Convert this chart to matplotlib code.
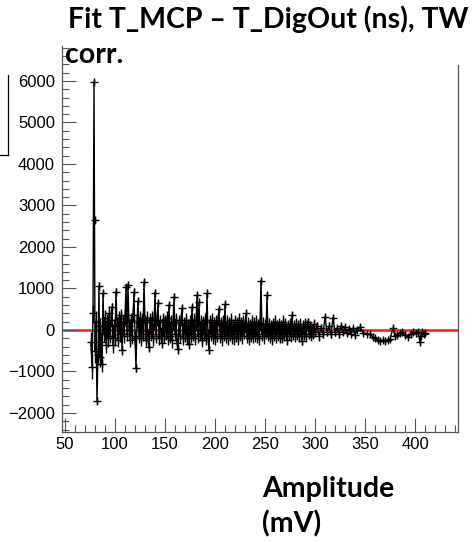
import numpy as np
import matplotlib
matplotlib.use("Agg")
from matplotlib import pyplot as plt
from matplotlib.ticker import MultipleLocator

# amplitude (mV) of each point
amp = [76, 77, 78, 79, 79.5, 80, 81, 82, 83, 84,
       84.5, 85, 86, 87, 88, 89, 90, 91, 92, 93,
       94, 95, 96, 97, 98, 99, 100, 101, 102, 103,
       104, 105, 106, 107, 108, 109, 110, 111, 112, 113,
       114, 115, 116, 117, 118, 119, 120, 121, 122, 123,
       124, 125, 126, 127, 128, 129, 130, 131, 132, 133,
       134, 135, 136, 137, 138, 139, 140, 141, 142, 143,
       144, 145, 146, 147, 148, 149, 150, 151, 152, 153,
       154, 155, 156, 157, 158, 159, 160, 161, 162, 163,
       164, 165, 166, 167, 168, 169, 170, 171, 172, 173,
       174, 175, 176, 177, 178, 179, 180, 181, 182, 183,
       184, 185, 186, 187, 188, 189, 190, 191, 192, 193,
       194, 195, 196, 197, 198, 199, 200, 201, 202, 203,
       204, 205, 206, 207, 208, 209, 210, 211, 212, 213,
       214, 215, 216, 217, 218, 219, 220, 221, 222, 223,
       224, 225, 226, 227, 228, 229, 230, 231, 232, 233,
       234, 235, 236, 237, 238, 239, 240, 241, 242, 243,
       244, 245, 246, 247, 248, 249, 250, 251, 252, 253,
       254, 255, 256, 257, 258, 259, 260, 261, 262, 263,
       264, 265, 266, 267, 268, 269, 270, 271, 272, 273,
       274, 275, 276, 277, 278, 279, 280, 281, 282, 283,
       284, 285, 286, 287, 288, 289, 290, 291, 292, 293,
       294, 295, 296, 297, 298, 299, 300, 302, 304, 306,
       308, 310, 312, 314, 316, 318, 320, 322, 324, 326,
       328, 330, 332, 334, 336, 338, 340, 342, 345, 348,
       352, 355, 358, 360, 363, 365, 368, 370, 373, 375,
       378, 380, 382, 385, 387, 390, 393, 396, 398, 401,
       403, 405, 406, 407, 409, 410]

# fitted T_MCP - T_DigOut after time-walk correction
dt = [-300, -890, 400, 5980, 2650, -500, 200, -1700, -600, 1060,
      -650, 100, -300, -820, 890, -100, 300, -360, 200, -200,
      400, -150, 250, 550, -360, 100, -200, 920, 150, -250,
      300, -100, 350, -480, 200, -150, 300, 1040, -100, 1080,
      100, -250, 250, -150, 350, 920, -200, -920, 200, 700,
      -150, 300, -200, 250, -100, 1160, 200, -250, 300, -150,
      -410, 250, -100, 300, -200, 150, 900, -150, 250, 650,
      -200, 200, -100, -310, 250, -150, 200, -50, 300, -200,
      600, -150, 200, -250, 150, 800, -100, 250, -310, -460,
      200, -150, 250, 530, -200, 150, -100, 250, -200, 100,
      -340, 200, -150, 550, -100, 250, -200, 150, 840, -150,
      670, -100, 200, -250, 150, -100, 250, -200, 880, -150,
      -480, 200, -100, 250, -150, 150, -200, 200, -100, 250,
      510, -150, 150, -200, 200, -100, 620, -150, 200, -200,
      150, -100, 250, -150, 100, -200, 200, -100, 150, -200,
      250, -100, 150, -150, 200, -50, 100, 410, -150, 150,
      -200, 100, -100, 200, -150, 150, -100, 200, -150, 100,
      -200, 150, 1190, -100, 150, -150, 100, -50, 840, -100,
      150, -150, 100, -200, 150, -100, 200, -150, 100, -100,
      150, -190, 100, -150, 200, -100, 150, -50, -240, 100,
      -100, 150, -150, 360, -100, 100, -150, 150, -100, 100,
      -150, 150, -50, -270, 100, -100, 150, -150, 100, 190,
      -100, 100, -150, 50, -100, 150, -50, 100, -150, 50,
      -100, 310, -50, 100, -100, 300, -50, 50, -100, 100,
      -50, 70, -80, 30, -100, 40, -120, 0, 70, -70,
      -90, -100, -170, -190, -250, -270, -240, -270, -240, -220,
      50, -150, -120, -80, -50, -120, -170, -100, -50, -80,
      -50, -290, -150, -50, -100, -70]

dt_err = [250, 300, 200, 70, 80, 300, 250, 90, 250, 90,
          250, 200, 250, 200, 80, 200, 180, 200, 180, 200,
          180, 170, 160, 90, 190, 160, 180, 80, 160, 170,
          160, 180, 160, 120, 170, 160, 180, 80, 160, 80,
          160, 170, 160, 180, 160, 80, 170, 90, 160, 80,
          170, 160, 180, 160, 170, 70, 160, 170, 160, 180,
          120, 160, 170, 160, 180, 160, 80, 170, 160, 80,
          170, 160, 180, 120, 160, 170, 160, 180, 160, 170,
          80, 170, 160, 180, 160, 80, 170, 160, 120, 110,
          160, 170, 160, 80, 170, 160, 180, 160, 170, 160,
          120, 160, 170, 80, 160, 170, 160, 180, 80, 170,
          80, 160, 170, 160, 180, 160, 170, 160, 80, 170,
          110, 160, 170, 160, 180, 160, 170, 160, 180, 160,
          80, 170, 160, 180, 160, 170, 80, 160, 170, 160,
          160, 170, 160, 180, 160, 170, 160, 180, 160, 170,
          160, 170, 160, 180, 160, 170, 160, 80, 170, 160,
          170, 160, 180, 160, 170, 160, 180, 160, 170, 160,
          170, 160, 70, 170, 160, 180, 160, 170, 70, 160,
          150, 160, 150, 170, 150, 160, 150, 170, 150, 160,
          150, 120, 150, 160, 150, 170, 150, 160, 110, 150,
          150, 140, 150, 80, 140, 150, 140, 150, 140, 150,
          130, 140, 130, 100, 130, 140, 130, 140, 130, 90,
          110, 120, 110, 100, 110, 120, 110, 100, 110, 100,
          100, 70, 90, 100, 90, 70, 90, 80, 90, 80,
          70, 60, 70, 60, 70, 60, 70, 60, 70, 60,
          50, 40, 50, 40, 50, 40, 50, 40, 50, 40,
          60, 40, 50, 40, 50, 40, 50, 40, 50, 40,
          50, 60, 50, 40, 50, 40]

fit_level = 0.0

W, H = 476, 542
fig = plt.figure(figsize=(W / 100, H / 100), dpi=100)
plt.rcParams['font.family'] = ['Liberation Sans', 'DejaVu Sans']

# axes box in pixels: x 62..458, y 46..432 (from top)
ax = fig.add_axes([62 / W, 1 - 432 / H, 396 / W, 386 / H])
ax.set_xlim(47, 443)
ax.set_ylim(-2458, 6843)

# fit line sits under the points, as in the original
ax.axhline(fit_level, color='#ff1a1a', lw=1.8, zorder=1)
ax.plot(amp, dt, color='k', lw=1.0, zorder=2)
ax.errorbar(amp, dt, yerr=dt_err, fmt='+', color='k', ms=6, mew=1.0,
            elinewidth=1.0, capsize=0, zorder=3)

ax.xaxis.set_major_locator(MultipleLocator(50))
ax.xaxis.set_minor_locator(MultipleLocator(10))
ax.yaxis.set_major_locator(MultipleLocator(1000))
ax.yaxis.set_minor_locator(MultipleLocator(200))
ax.tick_params(which='both', direction='in', top=False, right=False,
               labelsize=12, width=0.8, color='#555555')
ax.tick_params(which='major', length=10)
ax.tick_params(axis='y', which='major', pad=5)
ax.tick_params(which='minor', length=5)
ax.yaxis.set_major_formatter(lambda v, p: f"{v:.0f}".replace('-', '\u2212'))

ax.spines['top'].set_visible(False)
ax.spines['right'].set_bounds(-2458, 6390)
for s in ax.spines.values():
    s.set_linewidth(0.9)
    s.set_color('#555555')

# edge of a neighbouring box, cut off at the left
fig.add_artist(plt.Line2D([8 / W, 8 / W], [1 - 75 / H, 1 - 155 / H],
                          color='k', lw=0.9))
fig.add_artist(plt.Line2D([0, 8 / W], [1 - 155 / H, 1 - 155 / H],
                          color='k', lw=0.9))

tfont = dict(family=['Lato', 'DejaVu Sans'], fontweight='bold', fontsize=20.5)
fig.text(68 / W, 1 - 28 / H, "Fit T_MCP \u2013 T_DigOut (ns), TW",
         ha='left', va='baseline', **tfont)
fig.text(65 / W, 1 - 63 / H, "corr.", ha='left', va='baseline', **tfont)
fig.text(262 / W, 1 - 497 / H, "Amplitude", ha='left', va='baseline', **tfont)
fig.text(262 / W, 1 - 532 / H, "(mV)", ha='left', va='baseline', **tfont)

fig.savefig("out.png", dpi=100)
